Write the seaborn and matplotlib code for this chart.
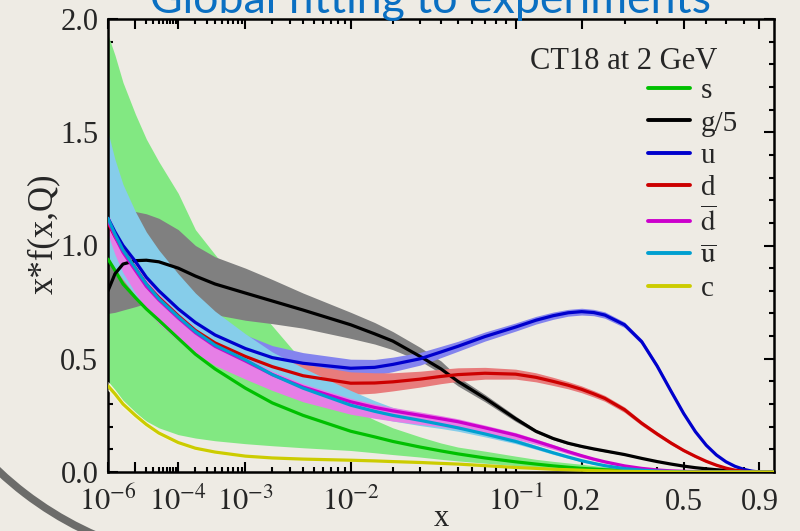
import numpy as np
import pandas as pd
import matplotlib
matplotlib.use("Agg")
import matplotlib.pyplot as plt
import seaborn as sns
from matplotlib.patches import Arc
from matplotlib.lines import Line2D
from matplotlib.ticker import FixedLocator, FixedFormatter, NullFormatter, MultipleLocator

# ---------------- data ----------------
x_vals = [1e-6, 2e-6, 4e-6, 1e-5, 2e-5, 4e-5, 1e-4, 2e-4, 4e-4, 1e-3,
          2e-3, 4e-3, 1e-2, 0.015, 0.02, 0.03, 0.04, 0.05, 0.07, 0.1,
          0.125, 0.15, 0.175, 0.2, 0.225, 0.25, 0.3, 0.35, 0.4, 0.45,
          0.5, 0.55, 0.6, 0.65, 0.7, 0.75, 0.8, 0.85, 0.9, 1.0]

s_c  = [0.94, 0.89, 0.83, 0.77, 0.72, 0.67, 0.59, 0.52, 0.455, 0.37,
        0.305, 0.25, 0.18, 0.155, 0.135, 0.11, 0.093, 0.08, 0.062, 0.045,
        0.035, 0.027, 0.021, 0.016, 0.013, 0.010, 0.006, 0.004, 0.002, 0.001,
        0.0005, 0, 0, 0, 0, 0, 0, 0, 0, 0]
s_hi = [1.93, 1.84, 1.72, 1.58, 1.47, 1.37, 1.23, 1.07, 0.96, 0.79,
        0.645, 0.486, 0.283, 0.23, 0.195, 0.155, 0.128, 0.11, 0.092, 0.07,
        0.056, 0.047, 0.04, 0.034, 0.028, 0.023, 0.015, 0.01, 0.006, 0.004,
        0.002, 0.001, 0, 0, 0, 0, 0, 0, 0, 0]
s_lo = [0.40, 0.355, 0.31, 0.26, 0.225, 0.195, 0.165, 0.15, 0.138, 0.125,
        0.116, 0.107, 0.095, 0.085, 0.077, 0.066, 0.056, 0.049, 0.039, 0.028,
        0.022, 0.017, 0.013, 0.01, 0.008, 0.006, 0.004, 0.002, 0.001, 0,
        0, 0, 0, 0, 0, 0, 0, 0, 0, 0]

g5_c  = [0.80, 0.875, 0.918, 0.933, 0.935, 0.928, 0.90, 0.865, 0.83, 0.79,
         0.755, 0.715, 0.65, 0.61, 0.578, 0.51, 0.455, 0.40, 0.326, 0.235,
         0.18, 0.148, 0.127, 0.113, 0.102, 0.093, 0.077, 0.06, 0.046, 0.035,
         0.026, 0.019, 0.014, 0.01, 0.007, 0.005, 0.003, 0.002, 0.001, 0]
g5_hi = [1.05, 1.10, 1.13, 1.15, 1.14, 1.12, 1.07, 1.0, 0.95, 0.90,
         0.85, 0.79, 0.705, 0.66, 0.62, 0.55, 0.49, 0.42, 0.342, 0.247,
         0.187, 0.154, 0.132, 0.118, 0.106, 0.097, 0.08, 0.062, 0.048, 0.036,
         0.027, 0.02, 0.015, 0.0105, 0.0075, 0.0053, 0.0032, 0.0021, 0.001, 0]
g5_lo = [0.70, 0.705, 0.715, 0.73, 0.745, 0.75, 0.745, 0.72, 0.695, 0.67,
         0.655, 0.635, 0.59, 0.565, 0.54, 0.49, 0.435, 0.38, 0.31, 0.223,
         0.173, 0.142, 0.122, 0.108, 0.098, 0.089, 0.074, 0.058, 0.044, 0.034,
         0.025, 0.018, 0.0134, 0.0096, 0.0067, 0.0048, 0.0029, 0.0019, 0.001, 0]

u_c  = [1.12, 1.06, 1.00, 0.93, 0.86, 0.80, 0.72, 0.66, 0.605, 0.545,
        0.505, 0.48, 0.458, 0.462, 0.475, 0.50, 0.53, 0.555, 0.598, 0.64,
        0.67, 0.69, 0.703, 0.708, 0.704, 0.693, 0.650, 0.575, 0.468, 0.357,
        0.258, 0.178, 0.118, 0.075, 0.045, 0.025, 0.012, 0.004, 0, 0]
u_err = [0.15, 0.145, 0.135, 0.12, 0.11, 0.10, 0.09, 0.08, 0.07, 0.06,
         0.053, 0.047, 0.04, 0.035, 0.032, 0.028, 0.025, 0.022, 0.02, 0.018,
         0.017, 0.016, 0.015, 0.015, 0.014, 0.014, 0.012, 0.011, 0.01, 0.009,
         0.008, 0.006, 0.005, 0.004, 0.003, 0.002, 0.001, 0.001, 0, 0]

d_c  = [1.10, 1.04, 0.98, 0.90, 0.83, 0.77, 0.69, 0.625, 0.57, 0.51,
        0.465, 0.425, 0.392, 0.393, 0.398, 0.41, 0.422, 0.43, 0.436, 0.432,
        0.418, 0.40, 0.383, 0.365, 0.345, 0.325, 0.275, 0.215, 0.168, 0.128,
        0.095, 0.069, 0.047, 0.03, 0.017, 0.008, 0.003, 0.001, 0, 0]
d_err = [0.15, 0.145, 0.135, 0.12, 0.11, 0.10, 0.09, 0.08, 0.07, 0.06,
         0.055, 0.052, 0.05, 0.045, 0.04, 0.035, 0.032, 0.03, 0.026, 0.022,
         0.02, 0.018, 0.016, 0.015, 0.014, 0.013, 0.012, 0.01, 0.009, 0.008,
         0.006, 0.005, 0.004, 0.003, 0.002, 0.001, 0.001, 0, 0, 0]

dbar_c  = [1.11, 1.04, 0.97, 0.89, 0.82, 0.76, 0.68, 0.615, 0.555, 0.49,
           0.43, 0.375, 0.31, 0.285, 0.27, 0.25, 0.235, 0.222, 0.195, 0.163,
           0.136, 0.112, 0.09, 0.072, 0.057, 0.045, 0.027, 0.016, 0.009, 0.005,
           0.003, 0.002, 0.001, 0, 0, 0, 0, 0, 0, 0]
dbar_lo = [1.05, 0.96, 0.88, 0.79, 0.72, 0.655, 0.58, 0.525, 0.47, 0.41,
           0.36, 0.31, 0.255, 0.237, 0.225, 0.21, 0.2, 0.19, 0.172, 0.145,
           0.122, 0.10, 0.08, 0.064, 0.051, 0.04, 0.023, 0.013, 0.007, 0.004,
           0.002, 0.001, 0.0005, 0, 0, 0, 0, 0, 0, 0]
dbar_hi = [1.14, 1.07, 1.0, 0.92, 0.85, 0.785, 0.70, 0.635, 0.572, 0.505,
           0.445, 0.39, 0.325, 0.30, 0.285, 0.265, 0.249, 0.235, 0.207, 0.174,
           0.146, 0.121, 0.098, 0.079, 0.063, 0.05, 0.031, 0.019, 0.011, 0.006,
           0.004, 0.0025, 0.0015, 0.001, 0, 0, 0, 0, 0, 0]

ubar_c  = [1.12, 1.05, 0.98, 0.90, 0.83, 0.765, 0.685, 0.62, 0.56, 0.495,
           0.43, 0.37, 0.295, 0.268, 0.25, 0.228, 0.21, 0.195, 0.168, 0.135,
           0.108, 0.085, 0.066, 0.05, 0.038, 0.028, 0.015, 0.008, 0.004, 0.002,
           0.001, 0, 0, 0, 0, 0, 0, 0, 0, 0]
ubar_lo = [0.95, 0.90, 0.85, 0.78, 0.72, 0.67, 0.61, 0.56, 0.51, 0.45,
           0.39, 0.335, 0.27, 0.243, 0.225, 0.205, 0.192, 0.18, 0.155, 0.125,
           0.10, 0.078, 0.06, 0.045, 0.034, 0.025, 0.013, 0.007, 0.003, 0.0015,
           0.001, 0, 0, 0, 0, 0, 0, 0, 0, 0]
ubar_hi = [1.50, 1.38, 1.27, 1.15, 1.06, 0.98, 0.875, 0.79, 0.71, 0.61,
           0.53, 0.46, 0.36, 0.315, 0.285, 0.255, 0.233, 0.215, 0.182, 0.147,
           0.118, 0.092, 0.072, 0.055, 0.042, 0.031, 0.017, 0.009, 0.005, 0.0025,
           0.0015, 0, 0, 0, 0, 0, 0, 0, 0, 0]

c_c  = [0.38, 0.345, 0.30, 0.25, 0.21, 0.172, 0.13, 0.105, 0.088, 0.07,
        0.062, 0.057, 0.052, 0.049, 0.046, 0.042, 0.038, 0.035, 0.028, 0.02,
        0.016, 0.012, 0.01, 0.008, 0.006, 0.005, 0.003, 0.002, 0.001, 0.0005,
        0, 0, 0, 0, 0, 0, 0, 0, 0, 0]
c_err = [0.02, 0.019, 0.017, 0.015, 0.013, 0.011, 0.009, 0.008, 0.007, 0.005,
         0.004, 0.004, 0.003, 0.003, 0.003, 0.002, 0.002, 0.002, 0.002, 0.001,
         0.001, 0.001, 0.001, 0.001, 0.001, 0.001, 0, 0, 0, 0,
         0, 0, 0, 0, 0, 0, 0, 0, 0, 0]

partons = ["s", "g/5", "u", "d", "dbar", "ubar", "c"]
legend_labels = ["s", "g/5", "u", "d", r"$\overline{\mathrm{d}}$", r"$\overline{\mathrm{u}}$", "c"]
line_colors = {"s": "#00c000", "g/5": "#000000", "u": "#0000cc", "d": "#cc0000",
               "dbar": "#cc00cc", "ubar": "#009fd0", "c": "#cccc00"}

x_major = [1e-6, 1e-5, 1e-4, 1e-3, 1e-2, 0.1, 0.2, 0.5, 0.9]
x_major_labels = [r"$10^{-6}$", "", r"$10^{-4}$", r"$10^{-3}$", r"$10^{-2}$", r"$10^{-1}$", "0.2", "0.5", "0.9"]
x_minor = [k * 10.0 ** e for e in (-5, -4, -3, -2) for k in range(2, 10)] + [0.3, 0.4, 0.6, 0.7, 0.8]
y_major = [0.0, 0.5, 1.0, 1.5, 2.0]
y_major_labels = ["0.0", "0.5", "1.0", "1.5", "2.0"]

# ---------------- styling ----------------
sns.set_theme(style="ticks")
plt.rcParams["font.family"] = ["Liberation Serif", "DejaVu Serif"]
plt.rcParams["mathtext.fontset"] = "stix"

BG = "#eeebe4"
W, H = 800, 531
fig = plt.figure(figsize=(W / 100, H / 100), dpi=100, facecolor=BG)

# decorative slide arc (bottom-left corner)
deco = fig.add_axes([0, 0, 1, 1], zorder=-5)
deco.set_xlim(0, W)
deco.set_ylim(H, 0)
deco.axis("off")
deco.add_patch(Arc((233, 222), 684, 684, theta1=105, theta2=150, lw=5.5, color="#6c6c6a"))

ax = fig.add_axes([108 / W, 1 - 472 / H, 666 / W, 453 / H], facecolor=BG, zorder=1)

P = 0.195
def fwd(x):
    return np.power(np.clip(np.asarray(x, float), 1e-12, None), P)
def inv(y):
    return np.power(np.clip(np.asarray(y, float), 0, None), 1.0 / P)
ax.set_xscale("function", functions=(fwd, inv))

xs = np.array(x_vals)
bands = [
    (s_lo, s_hi, "#82e882"),
    (g5_lo, g5_hi, "#808080"),
    (np.array(u_c) - np.array(u_err), np.array(u_c) + np.array(u_err), "#8484ee"),
    (np.array(d_c) - np.array(d_err), np.array(d_c) + np.array(d_err), "#e87c7c"),
    (ubar_lo, ubar_hi, "#86cdea"),
    (dbar_lo, dbar_hi, "#e67fe6"),
    (np.array(c_c) - np.array(c_err), np.array(c_c) + np.array(c_err), "#f7f5df"),
]
for z, (lo, hi, col) in enumerate(bands):
    ax.fill_between(xs, lo, hi, color=col, lw=0, zorder=2 + z * 0.1)

series = {"s": s_c, "g/5": g5_c, "u": u_c, "d": d_c, "dbar": dbar_c, "ubar": ubar_c, "c": c_c}
df = pd.DataFrame([(x, v, p) for p in partons for x, v in zip(x_vals, series[p])],
                  columns=["x", "xf", "parton"])
sns.lineplot(data=df, x="x", y="xf", hue="parton", hue_order=partons, palette=line_colors,
             linewidth=2.3, estimator=None, sort=True, legend=False, ax=ax, zorder=5)

ax.set_xlim(1e-6, 1.0)
ax.set_ylim(0, 2.0)

# ticks
ax.xaxis.set_major_locator(FixedLocator(x_major))
ax.xaxis.set_major_formatter(FixedFormatter(x_major_labels))
ax.xaxis.set_minor_locator(FixedLocator(x_minor))
ax.xaxis.set_minor_formatter(NullFormatter())
ax.yaxis.set_major_locator(FixedLocator(y_major))
ax.yaxis.set_major_formatter(FixedFormatter(y_major_labels))
ax.yaxis.set_minor_locator(MultipleLocator(0.1))
ax.tick_params(which="both", direction="in", top=True, right=True, width=1.5, color="black")
ax.tick_params(which="major", length=7)
ax.tick_params(which="minor", length=3.5)
ax.tick_params(axis="x", which="major", labelsize=22, pad=27.5)
ax.tick_params(axis="y", which="major", labelsize=22, pad=7)
for t in ax.xaxis.get_major_ticks():
    t.label1.set_verticalalignment("baseline")
for sp in ax.spines.values():
    sp.set_linewidth(1.8)
    sp.set_color("black")

ax.set_xlabel("x", fontsize=22, va="baseline")
ax.xaxis.set_label_coords(0.5, (472 - 526) / 453)
ax.set_ylabel("x*f(x,Q)", fontsize=25, va="center")
ax.yaxis.set_label_coords((44 - 108) / 666, (472 - 234) / 453)

# legend
handles = [Line2D([], [], color=line_colors[p], lw=2.8) for p in partons]
leg = ax.legend(handles, legend_labels, loc="upper left",
                bbox_to_anchor=(648 / W, 1 - 78 / H), bbox_transform=fig.transFigure,
                frameon=False, fontsize=21, handlelength=1.45, handletextpad=0.35,
                labelspacing=0.2, borderpad=0, borderaxespad=0)
fig.text(530 / W, 1 - 69 / H, "CT18 at 2 GeV", fontsize=22, ha="left", va="baseline")

# slide title, partly cut at the top edge as in the reference
title = fig.text(431 / W, 1 - 13 / H, "Global fitting to experiments", fontsize=34,
                 color="#0a6fc2", family=["Lato", "DejaVu Sans"], ha="center", va="baseline")
fig.canvas.draw()
w = title.get_window_extent().width
title.set_fontsize(34 * 562 / w)

fig.savefig("out.png", dpi=100, facecolor=BG)
